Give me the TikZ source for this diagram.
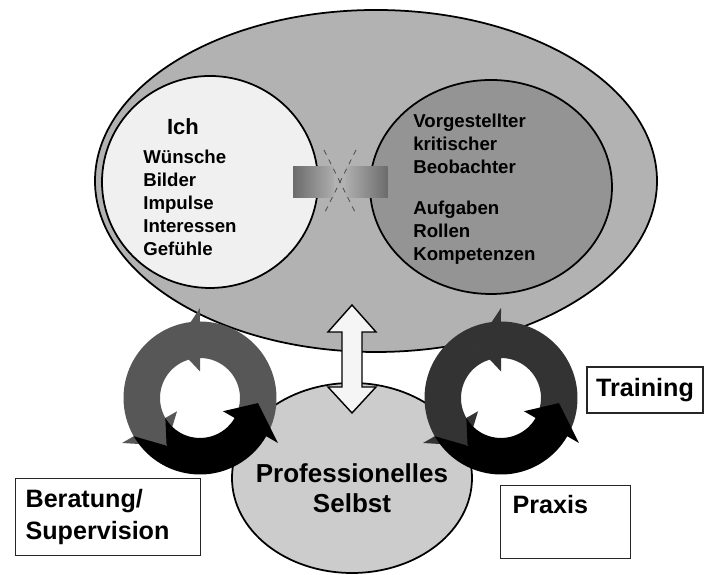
\documentclass[tikz,border=0pt]{standalone}
\usepackage{fontspec}
\setmainfont{Liberation Sans}
\usepackage{tikz}
\usetikzlibrary{positioning,calc,shapes.geometric}

\newcommand{\raus}{1.53}
\newcommand{\rinn}{0.8}
\newcommand{\rmitte}{1.165}
\newcommand{\rkante}{0.27}
\newcommand{\spitze}{25}
% ein Pfeil im Kreislauf: Mitte, Anfang, Ende, Farbe
\newcommand{\ringpfeil}[4]{%
  \fill[#4]
    ($#1+(#2:\raus)$) arc[start angle=#2, end angle=#3, radius=\raus]
    -- ($#1+({#3}:{\raus+\rkante})$) -- ($#1+({#3+\spitze}:{\rmitte})$)
    -- ($#1+({#3}:{\rinn-\rkante})$) -- ($#1+(#3:\rinn)$)
    arc[start angle=#3, end angle=#2, radius=\rinn]
    -- ($#1+({#2+\spitze}:{\rmitte})$) -- cycle;}

\begin{document}
\begin{tikzpicture}[
    kasten/.style={draw=black!85, line width=0.7pt, rectangle, inner sep=0pt,
      font=\bfseries\fontsize{14.3}{18}\selectfont},
    liste/.style={align=left, inner sep=0pt, font=\bfseries\fontsize{10.6}{13.1}\selectfont}]

    \useasboundingbox (0,0) rectangle (14.1,11.5);

    % grosse Ellipse mit Ich und Rolle
    \node[draw, ellipse, line width=1pt, fill=black!30, minimum width=11.24cm, minimum height=6.84cm] (gross) at (7.52,7.88) {};
    \node[draw, ellipse, line width=1pt, fill=black!6, minimum width=4.32cm, minimum height=4.24cm] (ich) at (4.2,7.86) {};
    \node[draw, ellipse, line width=1pt, fill=black!42, minimum width=4.84cm, minimum height=4.28cm] (rolle) at (9.82,7.76) {};

    \node[font=\bfseries\fontsize{12.5}{15}\selectfont] (ichtitel) at (3.66,8.96) {Ich};
    \node[liste, anchor=west] (ichliste) at (2.86,7.45) {W\"unsche\\Bilder\\Impulse\\Interessen\\Gef\"uhle};
    \node[liste, anchor=west] (rollenliste) at (8.26,7.72) {Vorgestellter\\kritischer\\Beobachter\\[0.35cm]Aufgaben\\Rollen\\Kompetenzen};

    % Spannung zwischen Ich und Rolle
    \shade[left color=black!58, right color=black!32] (5.86,7.54) rectangle (6.68,8.16);
    \shade[left color=black!32, right color=black!58] (6.92,7.54) rectangle (7.76,8.16);
    \draw[dashed, black!70] (6.48,8.5) -- (7.12,7.22);
    \draw[dashed, black!70] (7.12,8.5) -- (6.48,7.22);

    % professionelles Selbst
    \node[draw, ellipse, line width=1pt, fill=black!20, minimum width=4.8cm, minimum height=3.8cm] (selbst) at (7.04,1.94) {};
    \node[align=center, font=\bfseries\fontsize{14.8}{17}\selectfont] (selbsttext) at (7.04,1.74) {Professionelles\\Selbst};

    \draw[fill=black!4, line width=0.8pt] (7.04,5.4) -- (7.52,4.86) -- (7.24,4.86) -- (7.24,3.76) -- (7.52,3.76)
        -- (7.04,3.24) -- (6.56,3.76) -- (6.84,3.76) -- (6.84,4.86) -- (6.56,4.86) -- cycle;

    % Kreislaeufe
    \ringpfeil{(4,3.54)}{-30}{90}{black!66}
    \ringpfeil{(4,3.54)}{90}{210}{black!66}
    \ringpfeil{(4,3.54)}{210}{330}{black}
    \ringpfeil{(10.02,3.54)}{-30}{90}{black!80}
    \ringpfeil{(10.02,3.54)}{90}{210}{black!80}
    \ringpfeil{(10.02,3.54)}{210}{330}{black}

    \node[kasten, minimum width=2.32cm, minimum height=0.92cm] (training) at (12.9,3.7) {Training};
    \node[kasten, anchor=north west, align=left, text width=3.3cm, inner xsep=0.2cm, minimum height=1.54cm] (beratung) at (0.3,1.94) {Beratung/\\Supervision};
    \node[kasten, anchor=north west, align=left, text width=2.12cm, inner xsep=0.24cm, inner ysep=0.2cm,
        text height=0.36cm, text depth=0.7cm] (praxis) at (10.0,1.8) {Praxis};
\end{tikzpicture}
\end{document}
